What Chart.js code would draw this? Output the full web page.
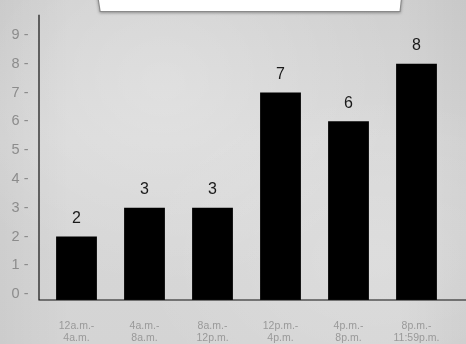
<!DOCTYPE html>
<html>
<head>
<meta charset="utf-8">
<script src="https://cdn.jsdelivr.net/npm/chart.js@4"></script>
<style>
  html, body { margin: 0; padding: 0; }
  body {
    width: 466px;
    height: 344px;
    overflow: hidden;
    position: relative;
    background-color: #d5d5d5;
    background-image:
      radial-gradient(ellipse at 35% 25%, rgba(255,255,255,0.25), rgba(255,255,255,0) 55%),
      radial-gradient(ellipse at 80% 75%, rgba(255,255,255,0.18), rgba(255,255,255,0) 45%),
      linear-gradient(90deg, rgba(0,0,0,0.04) 0%, rgba(0,0,0,0) 15%, rgba(0,0,0,0) 85%, rgba(0,0,0,0.04) 100%),
      linear-gradient(180deg, #d0d0d0 0%, #d8d8d8 40%, #d4d4d4 100%);
  }
  #wrap { position: absolute; left: 0; top: 0; width: 466px; height: 344px; }
  #title-box {
    position: absolute;
    left: 96px;
    top: -12px;
    width: 307px;
    height: 24px;
    filter: drop-shadow(0px 1px 1.5px rgba(0,0,0,0.35));
  }
  #title-box .edge {
    position: absolute; inset: 0;
    background: #8a8a8a;
    clip-path: polygon(0 0, 100% 0, 99.2% 100%, 1.2% 100%);
  }
  #title-box .face {
    position: absolute; left: 1px; top: 0; right: 1px; bottom: 1px;
    background: #ffffff;
    clip-path: polygon(0 0, 100% 0, 99.2% 100%, 1.2% 100%);
  }
</style>
</head>
<body>
<div id="wrap"><canvas id="mychart" width="466" height="344"></canvas></div>
<div id="title-box"><div class="edge"></div><div class="face"></div></div>
<script>
const categories = [
  ["12a.m.-", "4a.m."],
  ["4a.m.-", "8a.m."],
  ["8a.m.-", "12p.m."],
  ["12p.m.-", "4p.m."],
  ["4p.m.-", "8p.m."],
  ["8p.m.-", "11:59p.m."]
];
const counts = [2, 3, 3, 7, 6, 8];
const yTicks = [0, 1, 2, 3, 4, 5, 6, 7, 8, 9];

const fontFamily = "'Liberation Sans', Arial, sans-serif";

const valueLabels = {
  id: "valueLabels",
  afterDatasetsDraw(chart) {
    let ctx = chart.ctx;
    let meta = chart.getDatasetMeta(0);
    ctx.save();
    ctx.font = "16px " + fontFamily;
    ctx.fillStyle = "#1a1a1a";
    ctx.textAlign = "center";
    ctx.textBaseline = "middle";
    meta.data.forEach(function(bar, i) {
      ctx.fillText(String(counts[i]), bar.x, bar.y - 18);
    });
    ctx.restore();
  }
};

const axisLines = {
  id: "axisLines",
  afterDraw(chart) {
    let ctx = chart.ctx;
    let area = chart.chartArea;
    let x0 = area.left - 3.5;
    ctx.save();
    ctx.strokeStyle = "#111";
    ctx.lineWidth = 1.2;
    ctx.beginPath();
    ctx.moveTo(x0, area.top);
    ctx.lineTo(x0, area.bottom);
    ctx.lineTo(chart.width, area.bottom);
    ctx.stroke();
    ctx.restore();
  }
};

let ctx = document.getElementById("mychart").getContext("2d");
let myChart = new Chart(ctx, {
  type: "bar",
  data: {
    labels: categories,
    datasets: [{
      data: counts,
      base: -0.2,
      backgroundColor: "#000000",
      borderWidth: 0,
      barPercentage: 0.6,
      categoryPercentage: 1.0
    }]
  },
  options: {
    responsive: false,
    animation: false,
    layout: { padding: { top: 9, right: 15.5, left: 0, bottom: 0 } },
    plugins: {
      legend: { display: false },
      tooltip: { enabled: false }
    },
    scales: {
      x: {
        grid: { display: false },
        border: { display: false },
        afterFit: function(scale) { scale.height = 44; },
        ticks: {
          color: "#999999",
          font: { family: fontFamily, size: 10.5, lineHeight: 1.15 },
          padding: 12,
          maxRotation: 0,
          autoSkip: false
        }
      },
      y: {
        min: -0.2,
        max: 9.7,
        grid: { display: false },
        border: { display: false },
        afterFit: function(scale) { scale.width = 42.5; },
        afterBuildTicks: function(scale) {
          scale.ticks = yTicks.map(v => ({ value: v }));
        },
        ticks: {
          color: "#8c8c8c",
          font: { family: fontFamily, size: 14.5 },
          padding: 6,
          callback: function(value) { return value + " -"; }
        }
      }
    }
  },
  plugins: [valueLabels, axisLines]
});
</script>
</body>
</html>
